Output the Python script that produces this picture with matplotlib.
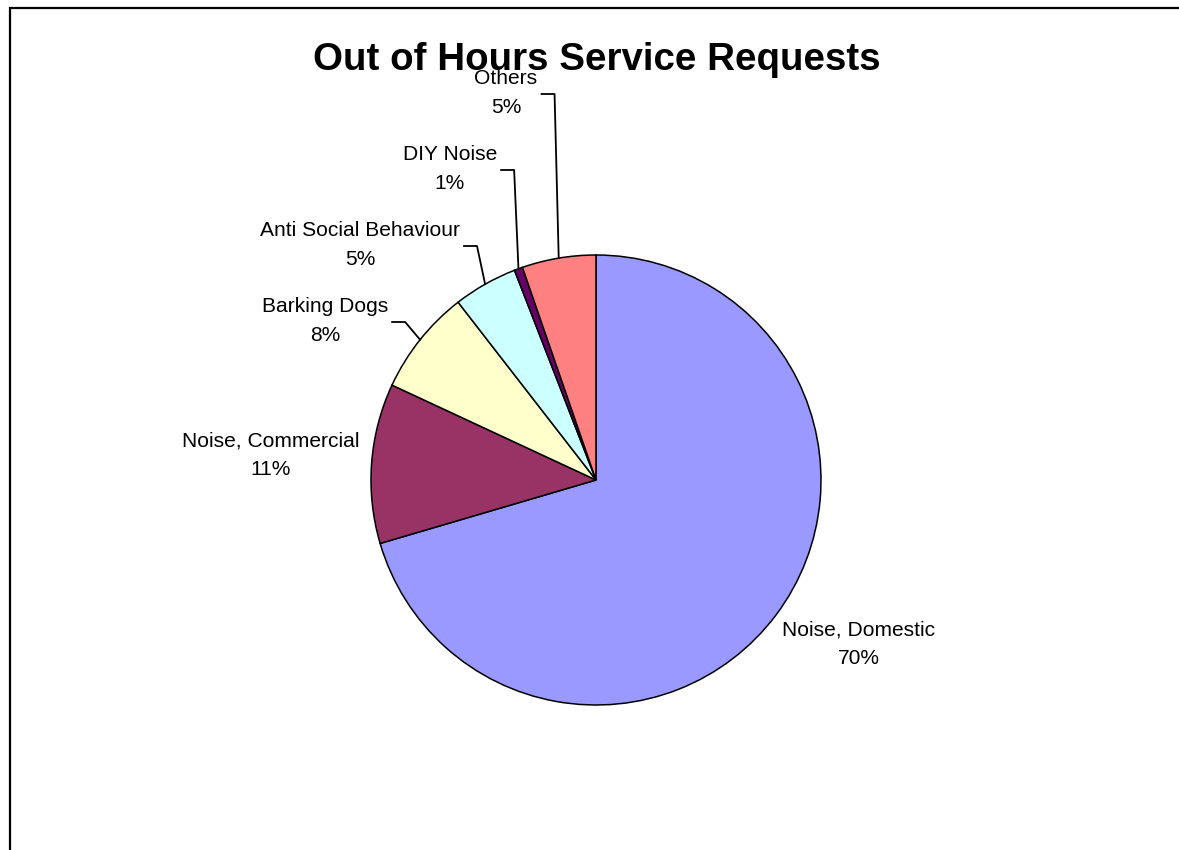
import numpy as np
import matplotlib
matplotlib.use('Agg')
import matplotlib.pyplot as plt

# Data (share of out-of-hours requests, %)
categories = ['Noise, Domestic', 'Noise, Commercial', 'Barking Dogs',
              'Anti Social Behaviour', 'DIY Noise', 'Others']
shares = [70.45, 11.48, 7.57, 4.6, 0.6, 5.3]
colors = ['#9999FF', '#993366', '#FFFFCC', '#CCFFFF', '#660066', '#FF8080']

# Layout in figure pixels (y measured from top)
W, H = 1179, 850
CX, CY, R = 596, 480, 225
# label baseline of first line, per category; leader flag
label_pos = [(859, 635), (271, 446), (325, 312), (360, 236), (450, 160), (506, 84)]
has_leader = [False, False, True, True, True, True]
LINE_GAP = 29

plt.rcParams['font.family'] = ['Liberation Sans', 'DejaVu Sans']

fig = plt.figure(figsize=(W / 100, H / 100), dpi=100)
ax = fig.add_axes([0, 0, 1, 1])

wedges, _ = ax.pie(shares, colors=colors, startangle=90, counterclock=False,
                   center=(CX, H - CY), radius=R,
                   wedgeprops=dict(edgecolor='black', linewidth=1.1))
ax.set_xlim(0, W)
ax.set_ylim(0, H)
ax.set_aspect('equal')
ax.axis('off')

# chart area border (top and left visible)
ax.plot([10, 10, W + 5], [-5, H - 8, H - 8], color='black', lw=1.6,
        solid_joinstyle='miter', clip_on=False)

ax.text(597, H - 70, 'Out of Hours Service Requests', ha='center', va='baseline',
        fontsize=27.7, fontweight='bold')

fig.canvas.draw()
renderer = fig.canvas.get_renderer()

for w, name, val, (lx, ly), lead in zip(wedges, categories, shares, label_pos, has_leader):
    t1 = ax.text(lx, H - ly, name, ha='center', va='baseline', fontsize=15.1)
    t2 = ax.text(lx, H - ly - LINE_GAP, f'{round(val)}%', ha='center', va='baseline', fontsize=15.1)
    if lead:
        bb = t1.get_window_extent(renderer)
        x0 = bb.x1 + 4
        y0 = H - ly - 10
        mid = np.deg2rad((w.theta1 + w.theta2) / 2)
        ex = CX + R * np.cos(mid)
        ey = (H - CY) + R * np.sin(mid)
        ax.plot([x0, x0 + 13, ex], [y0, y0, ey], color='black', lw=1.3)

fig.savefig('out.png', dpi=100)
